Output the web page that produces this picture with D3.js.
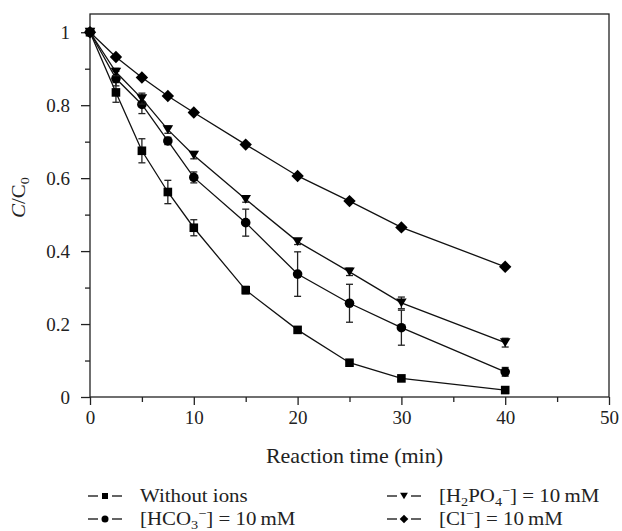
<!DOCTYPE html>
<html>
<head>
<meta charset="utf-8">
<script src="https://cdn.jsdelivr.net/npm/d3@7"></script>
<style>
  html, body { margin: 0; padding: 0; background: #fff; }
  svg { display: block; }
  text { font-family: "Liberation Serif", "DejaVu Serif", serif; fill: #222; }
</style>
</head>
<body>
<svg id="chart" width="622" height="531"></svg>
<script>
// ---- data ----
const times = [0, 2.5, 5, 7.5, 10, 15, 20, 25, 30, 40];
const withoutIons    = [1, 0.835, 0.675, 0.562, 0.464, 0.293, 0.184, 0.094, 0.051, 0.019];
const withoutIonsErr = [0, 0.027, 0.033, 0.032, 0.022, 0.010, 0.006, 0.006, 0.005, 0.005];
const hco3    = [1, 0.873, 0.802, 0.702, 0.602, 0.478, 0.337, 0.257, 0.190, 0.069];
const hco3Err = [0, 0.020, 0.025, 0.010, 0.015, 0.037, 0.061, 0.052, 0.048, 0.012];
const h2po4    = [1, 0.891, 0.818, 0.733, 0.663, 0.542, 0.426, 0.343, 0.258, 0.149];
const h2po4Err = [0, 0.010, 0.015, 0.010, 0.010, 0.008, 0.008, 0.010, 0.016, 0.012];
const cl    = [1, 0.932, 0.876, 0.825, 0.780, 0.692, 0.606, 0.537, 0.465, 0.357];
const clErr = [0, 0.004, 0.004, 0.004, 0.004, 0.004, 0.004, 0.004, 0.004, 0.004];

const xMajorTicks = [0, 10, 20, 30, 40, 50];
const xMinorTicks = [5, 15, 25, 35, 45];
const yMajorTicks = [0, 0.2, 0.4, 0.6, 0.8, 1];
const yTickLabels = ["0", "0.2", "0.4", "0.6", "0.8", "1"];
const yMinorTicks = [0.1, 0.3, 0.5, 0.7, 0.9];
const xAxisTitle = "Reaction time (min)";

const series = [
  { name: "without", values: withoutIons, err: withoutIonsErr, symbol: "square" },
  { name: "hco3", values: hco3, err: hco3Err, symbol: "circle" },
  { name: "h2po4", values: h2po4, err: h2po4Err, symbol: "tri" },
  { name: "cl", values: cl, err: clErr, symbol: "diamond" }
];

// ---- layout ----
const SX = 1.1; // horizontal widening of the serif text
const svg = d3.select("#chart");
const x = d3.scaleLinear().domain([0, 50]).range([90, 609]);
const y = d3.scaleLinear().domain([0, 1.05]).range([397, 14]);

const g = svg.append("g");

// frame
g.append("rect")
  .attr("x", x(0)).attr("y", y(1.05))
  .attr("width", x(50) - x(0)).attr("height", y(0) - y(1.05))
  .attr("fill", "none").attr("stroke", "#222").attr("stroke-width", 1.3);

// x axis
const xAxis = d3.axisBottom(x).tickValues(xMajorTicks).tickSize(8).tickPadding(6)
  .tickFormat(d3.format("d"));
const gx = g.append("g").attr("transform", `translate(0,${y(0)})`).call(xAxis);
gx.select(".domain").remove();
const gxm = g.append("g").attr("transform", `translate(0,${y(0)})`)
  .call(d3.axisBottom(x).tickValues(xMinorTicks).tickSize(5).tickFormat(""));
gxm.select(".domain").remove();

// y axis
const yAxis = d3.axisLeft(y).tickValues(yMajorTicks).tickSize(9).tickPadding(11)
  .tickFormat((d, i) => yTickLabels[i]);
const gy = g.append("g").attr("transform", `translate(${x(0)},0)`).call(yAxis);
gy.select(".domain").remove();
const gym = g.append("g").attr("transform", `translate(${x(0)},0)`)
  .call(d3.axisLeft(y).tickValues(yMinorTicks).tickSize(5).tickFormat(""));
gym.select(".domain").remove();

svg.selectAll(".tick line").attr("stroke", "#222").attr("stroke-width", 1.3);
svg.selectAll(".tick text")
  .style("font-family", '"Liberation Serif", serif')
  .style("font-size", "19px").attr("fill", "#222");

// axis titles
g.append("text")
  .attr("transform", `translate(${(x(0) + x(50)) / 2 + 5},463) scale(${SX},1)`)
  .attr("text-anchor", "middle").style("font-size", "20px")
  .text(xAxisTitle);

const yl = g.append("text")
  .attr("transform", `translate(25,${y(0.525) - 8}) rotate(-90) scale(${SX},1)`)
  .attr("text-anchor", "middle").style("font-size", "19px");
yl.append("tspan").style("font-style", "italic").text("C");
yl.append("tspan").text("/C");
yl.append("tspan").attr("dy", 4).style("font-size", "13px").text("0");

// symbols
function symPath(sym, r) {
  if (sym === "square") return `M${-r},${-r}H${r}V${r}H${-r}Z`;
  if (sym === "circle") return d3.symbol(d3.symbolCircle, Math.PI * r * r)();
  if (sym === "tri") {
    const w = r * 1.15, h = r * 1.9;
    return `M${-w},${-h / 2}L${w},${-h / 2}L0,${h / 2}Z`;
  }
  if (sym === "diamond") return `M0,${-r}L${r},0L0,${r}L${-r},0Z`;
}
const markerR = { without: 4.3, hco3: 4.8, h2po4: 4.6, cl: 6.2 };

// lines, error bars, markers
const line = d3.line().x(d => x(d.t)).y(d => y(d.v));
series.forEach(s => {
  const pts = times.map((t, i) => ({ t, v: s.values[i], e: s.err[i] }));
  g.append("path").datum(pts).attr("d", line)
    .attr("fill", "none").attr("stroke", "#111").attr("stroke-width", 1.3);
  const eb = g.append("g");
  pts.filter(p => p.e > 0).forEach(p => {
    const x0 = x(p.t), y1 = y(p.v + p.e), y2 = y(p.v - p.e);
    eb.append("line").attr("x1", x0).attr("x2", x0).attr("y1", y1).attr("y2", y2)
      .attr("stroke", "#222").attr("stroke-width", 1.3);
    [y1, y2].forEach(yy => eb.append("line")
      .attr("x1", x0 - 3.5).attr("x2", x0 + 3.5).attr("y1", yy).attr("y2", yy)
      .attr("stroke", "#222").attr("stroke-width", 1.3));
  });
  g.append("g").selectAll("path").data(pts).join("path")
    .attr("transform", p => `translate(${x(p.t)},${y(p.v)})`)
    .attr("d", symPath(s.symbol, markerR[s.name]))
    .attr("fill", "#000");
});

// legend
const legendItems = [
  { sym: "square", r: 3, col: 0, row: 0, parts: [["Without ions"]] },
  { sym: "tri", r: 3.4, col: 1, row: 0,
    parts: [["[H"], ["2", "sub"], ["PO"], ["4", "sub"], ["\u2212", "sup"], ["] = 10\u2009mM"]] },
  { sym: "circle", r: 3.5, col: 0, row: 1,
    parts: [["[HCO"], ["3", "sub"], ["\u2212", "sup"], ["] = 10\u2009mM"]] },
  { sym: "diamond", r: 4.3, col: 1, row: 1,
    parts: [["[Cl"], ["\u2212", "sup"], ["] = 10\u2009mM"]] }
];
const lg = svg.append("g");
legendItems.forEach(it => {
  const mx = 105 + it.col * 299;
  const my = 496 + it.row * 23;
  lg.append("line").attr("x1", mx - 17).attr("x2", mx - 7).attr("y1", my).attr("y2", my)
    .attr("stroke", "#222").attr("stroke-width", 1.4);
  lg.append("line").attr("x1", mx + 7).attr("x2", mx + 17).attr("y1", my).attr("y2", my)
    .attr("stroke", "#222").attr("stroke-width", 1.4);
  lg.append("path").attr("transform", `translate(${mx},${my})`)
    .attr("d", symPath(it.sym, it.r)).attr("fill", "#000");
  const t = lg.append("text")
    .attr("transform", `translate(${mx + 35},${my + 6}) scale(${SX},1)`)
    .style("font-size", "19px");
  let cur = 0;
  it.parts.forEach(([txt, kind]) => {
    let target = 0, fs = "19px";
    if (kind === "sub") { target = 4; fs = "13px"; }
    if (kind === "sup") { target = -7; fs = "13px"; }
    t.append("tspan").attr("dy", target - cur).style("font-size", fs).text(txt);
    cur = target;
  });
});
</script>
</body>
</html>
